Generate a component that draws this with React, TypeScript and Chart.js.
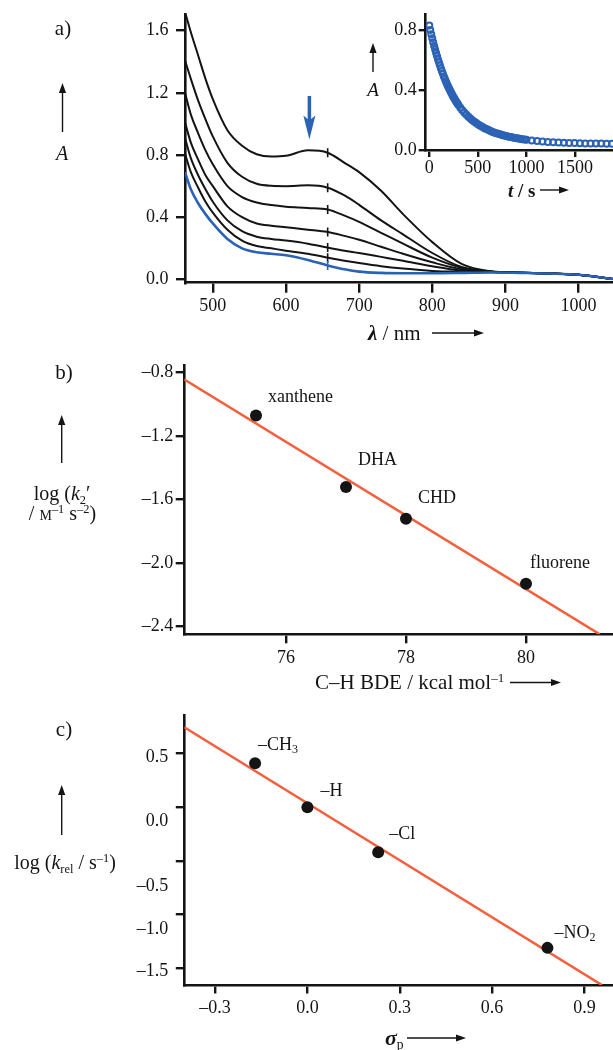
import React, { useEffect, useRef } from 'react';
import { Chart, registerables } from 'chart.js';

Chart.register(...registerables);

const FONT = "'Liberation Serif', 'Times New Roman', Times, serif";
const INK = '#141414';
const BLUE = '#2b62b5';
const FIT = '#f2603e';

// ---------- panel a: spectra ----------
const WAVELENGTH_NM = [462, 470, 480, 490, 500, 520, 540, 560, 580, 600, 630, 657, 680, 700, 730, 760, 800, 840, 880, 920, 960, 1000, 1047];
const SPECTRUM_1 = [1.72, 1.59, 1.44, 1.29, 1.16, 0.96, 0.86, 0.805, 0.79, 0.795, 0.83, 0.815, 0.75, 0.69, 0.57, 0.42, 0.24, 0.10, 0.052, 0.043, 0.038, 0.03, 0.003];
const SPECTRUM_2 = [1.41, 1.29, 1.15, 1.03, 0.92, 0.75, 0.66, 0.615, 0.602, 0.60, 0.605, 0.59, 0.54, 0.48, 0.38, 0.29, 0.17, 0.08, 0.05, 0.043, 0.038, 0.03, 0.003];
const SPECTRUM_3 = [1.20, 1.06, 0.94, 0.83, 0.74, 0.60, 0.53, 0.495, 0.478, 0.468, 0.46, 0.45, 0.41, 0.37, 0.30, 0.23, 0.14, 0.075, 0.05, 0.043, 0.038, 0.03, 0.003];
const SPECTRUM_4 = [1.01, 0.88, 0.77, 0.67, 0.60, 0.47, 0.40, 0.36, 0.345, 0.335, 0.32, 0.305, 0.28, 0.255, 0.21, 0.165, 0.11, 0.065, 0.05, 0.043, 0.038, 0.03, 0.003];
const SPECTRUM_5 = [0.91, 0.78, 0.67, 0.58, 0.50, 0.38, 0.31, 0.275, 0.26, 0.25, 0.23, 0.205, 0.185, 0.17, 0.145, 0.12, 0.085, 0.058, 0.05, 0.043, 0.038, 0.03, 0.003];
const SPECTRUM_6 = [0.81, 0.69, 0.59, 0.50, 0.43, 0.32, 0.25, 0.215, 0.20, 0.185, 0.165, 0.14, 0.12, 0.105, 0.085, 0.07, 0.055, 0.05, 0.048, 0.043, 0.038, 0.03, 0.003];
const SPECTRUM_FINAL = [0.69, 0.58, 0.49, 0.42, 0.36, 0.26, 0.20, 0.175, 0.165, 0.155, 0.125, 0.09, 0.065, 0.05, 0.042, 0.04, 0.04, 0.042, 0.045, 0.042, 0.038, 0.03, 0.003];
const BLACK_SPECTRA = [SPECTRUM_1, SPECTRUM_2, SPECTRUM_3, SPECTRUM_4, SPECTRUM_5, SPECTRUM_6];
const DETECTOR_STEP_NM = 657;
const A_X_TICKS = [500, 600, 700, 800, 900, 1000];
const A_Y_TICKS = [0, 0.4, 0.8, 1.2, 1.6];
const ARROW_NM = 632;
const ARROW_FROM_A = 1.18;
const ARROW_TO_A = 0.9;

// ---------- inset: kinetic trace ----------
const TIME_S = [
  0, 10, 20, 30, 40, 50, 60, 70, 80, 90, 100, 110, 120, 130, 140, 150, 160, 170, 180, 190, 200,
  210, 220, 230, 240, 250, 260, 270, 280, 290, 300,
  320, 340, 360, 380, 400, 420, 440, 460, 480, 500, 520, 540, 560, 580, 600, 620, 640, 660, 680, 700,
  720, 740, 760, 780, 800, 820, 840, 860, 880, 900, 920, 940, 960, 980, 1000,
  1055, 1110, 1165, 1220, 1275, 1330, 1385, 1440, 1495, 1550, 1605, 1660, 1715, 1770, 1825, 1880,
];
const ABS_TRACE = [
  0.830, 0.800, 0.772, 0.745, 0.719, 0.694, 0.670, 0.647, 0.625, 0.603, 0.583, 0.563, 0.544, 0.526, 0.508, 0.491, 0.475, 0.459, 0.444, 0.429, 0.415,
  0.401, 0.388, 0.376, 0.364, 0.352, 0.341, 0.330, 0.320, 0.310, 0.300,
  0.282, 0.265, 0.250, 0.236, 0.223, 0.211, 0.200, 0.190, 0.181, 0.172, 0.164, 0.156, 0.149, 0.142, 0.136, 0.130, 0.124, 0.119, 0.114, 0.110,
  0.106, 0.102, 0.098, 0.095, 0.092, 0.089, 0.086, 0.083, 0.080, 0.078, 0.076, 0.074, 0.072, 0.070, 0.068,
  0.064, 0.060, 0.057, 0.054, 0.052, 0.050, 0.048, 0.047, 0.046, 0.045, 0.044, 0.044, 0.043, 0.043, 0.042, 0.042,
];
const INSET_X_TICKS = [0, 500, 1000, 1500];
const INSET_Y_TICKS = [0, 0.4, 0.8];

// ---------- panel b ----------
const SUBSTRATES = ['xanthene', 'DHA', 'CHD', 'fluorene'];
const BDE_KCAL = [75.5, 77.0, 78.0, 80.0];
const LOG_K2 = [-1.07, -1.52, -1.72, -2.13];
const FIT_B_X = [74.3, 81.23];
const FIT_B_Y = [-0.842, -2.448];
const B_X_TICKS = [76, 78, 80];
const B_Y_TICKS = [-2.4, -2.0, -1.6, -1.2, -0.8];

// ---------- panel c ----------
const SUBSTITUENTS = ['–CH_3', '–H', '–Cl', '–NO_2'];
const SIGMA_P = [-0.17, 0.0, 0.23, 0.78];
const LOG_KREL = [0.41, 0.0, -0.42, -1.31];
const FIT_C_X = [-0.4, 0.957];
const FIT_C_Y = [0.746, -1.656];
const C_X_TICKS = [-0.3, 0.0, 0.3, 0.6, 0.9];
const C_Y_TICKS = [0.5, 0.0, -0.5, -1.0, -1.5];

const pts = (xs: number[], ys: number[]) => xs.map((x, i) => ({ x, y: ys[i] }));
const dash = (v: number, d: number) => (v < -1e-9 ? '–' : '') + Math.abs(v).toFixed(d);

function makeScale(min: number, max: number, values: number[], fmt: (v: number) => string, tickLength: number, padding: number, fit: (s: any) => void) {
  return {
    type: 'linear' as const,
    min,
    max,
    afterBuildTicks: (s: any) => {
      s.ticks = values.map((v) => ({ value: v }));
    },
    afterFit: (s: any) => {
      fit(s);
      s.paddingTop = 0;
      s.paddingBottom = 0;
      s.paddingLeft = 0;
      s.paddingRight = 0;
    },
    ticks: {
      callback: (v: any) => fmt(Number(v)),
      font: { family: FONT, size: 18 },
      color: INK,
      padding,
      maxRotation: 0,
      minRotation: 0,
      autoSkip: false,
    },
    grid: {
      drawOnChartArea: false,
      drawTicks: true,
      tickLength,
      tickWidth: 2.4,
      tickColor: INK,
      lineWidth: 2.4,
      color: INK,
    },
    border: { display: true, color: INK, width: 2.6 },
  };
}

function baseOptions(padTop: number, scales: any) {
  return {
    responsive: false,
    maintainAspectRatio: false,
    animation: false as const,
    events: [] as any[],
    layout: { autoPadding: false, padding: { top: padTop, left: 0, right: 0, bottom: 0 } },
    plugins: { legend: { display: false }, tooltip: { enabled: false } },
    scales,
  };
}

function makePointLabelPlugin(id: string, xs: number[], ys: number[], labels: string[], offsets: number[][]) {
  return {
    id,
    afterDatasetsDraw(chart: any) {
      const { ctx } = chart;
      const xS = chart.scales.x;
      const yS = chart.scales.y;
      ctx.save();
      ctx.fillStyle = INK;
      ctx.textBaseline = 'middle';
      ctx.textAlign = 'left';
      labels.forEach((lab, i) => {
        let x = xS.getPixelForValue(xs[i]) + offsets[i][0];
        const y = yS.getPixelForValue(ys[i]) + offsets[i][1];
        const [main, sub] = lab.split('_');
        ctx.font = `18px ${FONT}`;
        ctx.fillText(main, x, y);
        if (sub) {
          x += ctx.measureText(main).width;
          ctx.font = `12px ${FONT}`;
          ctx.fillText(sub, x, y + 5);
        }
      });
      ctx.restore();
    },
  };
}

const blueArrowPlugin = {
  id: 'blueArrow',
  afterDatasetsDraw(chart: any) {
    const { ctx } = chart;
    const px = chart.scales.x.getPixelForValue(ARROW_NM);
    const top = chart.scales.y.getPixelForValue(ARROW_FROM_A);
    const tip = chart.scales.y.getPixelForValue(ARROW_TO_A);
    ctx.save();
    ctx.strokeStyle = BLUE;
    ctx.fillStyle = BLUE;
    ctx.lineWidth = 3.5;
    ctx.beginPath();
    ctx.moveTo(px, top);
    ctx.lineTo(px, tip - 18);
    ctx.stroke();
    ctx.beginPath();
    ctx.moveTo(px - 6, tip - 24);
    ctx.lineTo(px, tip - 19);
    ctx.lineTo(px + 6, tip - 24);
    ctx.lineTo(px, tip);
    ctx.closePath();
    ctx.fill();
    ctx.restore();
  },
};

const cYLabelNudge = [4, 14, 25, 15, 3];
const cYLabelsPlugin = {
  id: 'cYLabels',
  afterDraw(chart: any) {
    const { ctx, chartArea } = chart;
    const yS = chart.scales.y;
    ctx.save();
    ctx.fillStyle = INK;
    ctx.font = `18px ${FONT}`;
    ctx.textAlign = 'right';
    ctx.textBaseline = 'middle';
    C_Y_TICKS.forEach((v, i) => {
      ctx.fillText(dash(v, 1), chartArea.left - 8.5 - 7.5, yS.getPixelForValue(v) + cYLabelNudge[i]);
    });
    ctx.restore();
  },
};

function T(props: { x: number; y: number; anchor?: 'start' | 'middle' | 'end'; size?: number; children: any; style?: any }) {
  const { x, y, anchor = 'middle', size = 20, children, style } = props;
  const tx = anchor === 'start' ? '0' : anchor === 'end' ? '-100%' : '-50%';
  return (
    <div
      style={{
        position: 'absolute',
        left: x,
        top: y,
        transform: `translate(${tx}, -50%)`,
        fontSize: size,
        lineHeight: 1,
        whiteSpace: 'nowrap',
        ...style,
      }}
    >
      {children}
    </div>
  );
}

const Sub = ({ children }: any) => (
  <span style={{ fontSize: '0.62em', position: 'relative', top: '0.3em' }}>{children}</span>
);
const Sup = ({ children }: any) => (
  <span style={{ fontSize: '0.62em', position: 'relative', top: '-0.55em' }}>{children}</span>
);

function arrowPath(x1: number, y1: number, x2: number, y2: number) {
  const L = 10;
  const W = 3.6;
  const dx = x2 - x1;
  const dy = y2 - y1;
  const len = Math.hypot(dx, dy);
  const ux = dx / len;
  const uy = dy / len;
  const bx = x2 - ux * L;
  const by = y2 - uy * L;
  const head = `M${x2},${y2} L${bx - uy * W},${by + ux * W} L${bx + uy * W},${by - ux * W} Z`;
  return { line: { x1, y1, x2: bx + ux * 2, y2: by + uy * 2 }, head };
}

const ARROWS = [
  [62.5, 132, 62.5, 83],
  [432, 333, 484, 333],
  [373, 72, 373, 43],
  [540, 190, 569, 190],
  [61.7, 463, 61.7, 415],
  [510, 682.5, 561, 682.5],
  [61.7, 835, 61.7, 785],
  [407, 1038, 466, 1038],
];

export default function App() {
  const refA = useRef<HTMLCanvasElement>(null);
  const refInset = useRef<HTMLCanvasElement>(null);
  const refB = useRef<HTMLCanvasElement>(null);
  const refC = useRef<HTMLCanvasElement>(null);

  useEffect(() => {
    Chart.defaults.font.family = FONT;
    const charts: Chart[] = [];

    // ----- panel a -----
    const stepIdx = WAVELENGTH_NM.indexOf(DETECTOR_STEP_NM);
    const aDatasets: any[] = [];
    aDatasets.push({
      data: [{ x: DETECTOR_STEP_NM, y: SPECTRUM_FINAL[stepIdx] }],
      pointStyle: 'line',
      rotation: 90,
      pointRadius: 4.5,
      borderColor: BLUE,
      borderWidth: 1.6,
      showLine: false,
    });
    aDatasets.push({
      data: BLACK_SPECTRA.map((s) => ({ x: DETECTOR_STEP_NM, y: s[stepIdx] })),
      pointStyle: 'line',
      rotation: 90,
      pointRadius: 4.5,
      borderColor: INK,
      borderWidth: 1.6,
      showLine: false,
    });
    aDatasets.push({
      data: pts(WAVELENGTH_NM, SPECTRUM_FINAL),
      showLine: true,
      pointRadius: 0,
      borderColor: BLUE,
      borderWidth: 2.6,
      cubicInterpolationMode: 'monotone',
    });
    BLACK_SPECTRA.forEach((s) => {
      aDatasets.push({
        data: pts(WAVELENGTH_NM, s),
        showLine: true,
        pointRadius: 0,
        borderColor: INK,
        borderWidth: 2,
        cubicInterpolationMode: 'monotone',
      });
    });
    charts.push(
      new Chart(refA.current as HTMLCanvasElement, {
        type: 'scatter',
        data: { datasets: aDatasets },
        options: baseOptions(14, {
          x: makeScale(462, 1047, A_X_TICKS, (v) => String(v), 10, 3.2, (s) => (s.height = 345 - 282.7)),
          y: makeScale(-0.021, 1.707, A_Y_TICKS, (v) => v.toFixed(1), 9, 7.5, (s) => (s.width = 185)),
        }) as any,
        plugins: [blueArrowPlugin],
      })
    );

    // ----- inset -----
    charts.push(
      new Chart(refInset.current as HTMLCanvasElement, {
        type: 'scatter',
        data: {
          datasets: [
            {
              data: pts(TIME_S, ABS_TRACE),
              pointStyle: 'circle',
              pointRadius: 3,
              borderWidth: 2,
              borderColor: BLUE,
              backgroundColor: 'rgba(255,255,255,0)',
              showLine: false,
            } as any,
          ],
        },
        options: baseOptions(14, {
          x: makeScale(-37, 1891, INSET_X_TICKS, (v) => String(v), 7, 0.5, (s) => (s.height = 200 - 150)),
          y: makeScale(0, 0.907, INSET_Y_TICKS, (v) => v.toFixed(1), 7, 2, (s) => (s.width = 425.7 - 360)),
        }) as any,
      })
    );

    // ----- panel b -----
    charts.push(
      new Chart(refB.current as HTMLCanvasElement, {
        type: 'scatter',
        data: {
          datasets: [
            { data: pts(BDE_KCAL, LOG_K2), pointRadius: 6, backgroundColor: INK, borderWidth: 0, showLine: false } as any,
            { data: pts(FIT_B_X, FIT_B_Y), showLine: true, pointRadius: 0, borderColor: FIT, borderWidth: 2.6 } as any,
          ],
        },
        options: baseOptions(20, {
          x: makeScale(74.305, 81.45, B_X_TICKS, (v) => String(v), 9, 3.9, (s) => (s.height = 695 - 634.3)),
          y: makeScale(-2.448, -0.752, B_Y_TICKS, (v) => dash(v, 1), 8.6, 2.5, (s) => (s.width = 184.3)),
        }) as any,
        plugins: [
          makePointLabelPlugin('bLabels', BDE_KCAL, LOG_K2, SUBSTRATES, [
            [12, -18],
            [12, -27],
            [12, -20],
            [4, -21],
          ]),
        ],
      })
    );

    // ----- panel c -----
    charts.push(
      new Chart(refC.current as HTMLCanvasElement, {
        type: 'scatter',
        data: {
          datasets: [
            { data: pts(SIGMA_P, LOG_KREL), pointRadius: 6, backgroundColor: INK, borderWidth: 0, showLine: false } as any,
            { data: pts(FIT_C_X, FIT_C_Y), showLine: true, pointRadius: 0, borderColor: FIT, borderWidth: 2.6 } as any,
          ],
        },
        options: baseOptions(20, {
          x: makeScale(-0.4, 0.993, C_X_TICKS, (v) => dash(v, 1), 8.5, 3.7, (s) => (s.height = 1050 - 985)),
          y: makeScale(-1.656, 0.86, C_Y_TICKS, () => '', 8.5, 7.5, (s) => (s.width = 184.3)),
        }) as any,
        plugins: [
          cYLabelsPlugin,
          makePointLabelPlugin('cLabels', SIGMA_P, LOG_KREL, SUBSTITUENTS, [
            [3, -18],
            [13, -16],
            [11, -18],
            [7, -15],
          ]),
        ],
      })
    );

    return () => charts.forEach((c) => c.destroy());
  }, []);

  const canvasStyle = (left: number, top: number, w: number, h: number): any => ({
    position: 'absolute',
    left,
    top,
    width: w,
    height: h,
  });

  return (
    <div
      style={{
        position: 'absolute',
        left: 0,
        top: 0,
        width: 613,
        height: 1050,
        overflow: 'hidden',
        background: '#fff',
        fontFamily: FONT,
        color: INK,
      }}
    >
      <canvas ref={refA} width={613} height={345} style={canvasStyle(0, 0, 613, 345)} />
      <canvas ref={refInset} width={253} height={200} style={canvasStyle(360, 0, 253, 200)} />
      <canvas ref={refB} width={613} height={350} style={canvasStyle(0, 345, 613, 350)} />
      <canvas ref={refC} width={613} height={355} style={canvasStyle(0, 695, 613, 355)} />

      <svg width={613} height={1050} style={{ position: 'absolute', left: 0, top: 0, pointerEvents: 'none' }}>
        {ARROWS.map((a, i) => {
          const p = arrowPath(a[0], a[1], a[2], a[3]);
          return (
            <g key={i}>
              <line x1={p.line.x1} y1={p.line.y1} x2={p.line.x2} y2={p.line.y2} stroke={INK} strokeWidth={1.4} />
              <path d={p.head} fill={INK} />
            </g>
          );
        })}
      </svg>

      {/* panel a */}
      <T x={63} y={28} size={21}>a)</T>
      <T x={62} y={153} size={20} style={{ fontStyle: 'italic' }}>A</T>
      <T x={368} y={333} anchor="start" size={21}>
        <b><i>λ</i></b> / nm
      </T>
      <T x={373} y={89} size={19} style={{ fontStyle: 'italic' }}>A</T>
      <T x={508} y={190} anchor="start" size={19} style={{ fontWeight: 'bold' }}>
        <i>t</i> / s
      </T>

      {/* panel b */}
      <T x={64} y={371.7} size={21}>b)</T>
      <T x={62} y={493} size={20}>
        log (<i>k</i>
        <Sub>2</Sub>′
      </T>
      <T x={62.5} y={513} size={20}>
        / <span style={{ fontVariant: 'small-caps' }}>m</span>
        <Sup>–1</Sup> s<Sup>–2</Sup>)
      </T>
      <T x={315} y={682} anchor="start" size={21}>
        C–H BDE / kcal mol<Sup>–1</Sup>
      </T>

      {/* panel c */}
      <T x={64} y={729} size={21}>c)</T>
      <T x={65} y={862} size={20}>
        log (<i>k</i>
        <Sub>rel</Sub> / s<Sup>–1</Sup>)
      </T>
      <T x={385} y={1038} anchor="start" size={22}>
        <b><i>σ</i></b>
        <Sub>p</Sub>
      </T>
    </div>
  );
}
